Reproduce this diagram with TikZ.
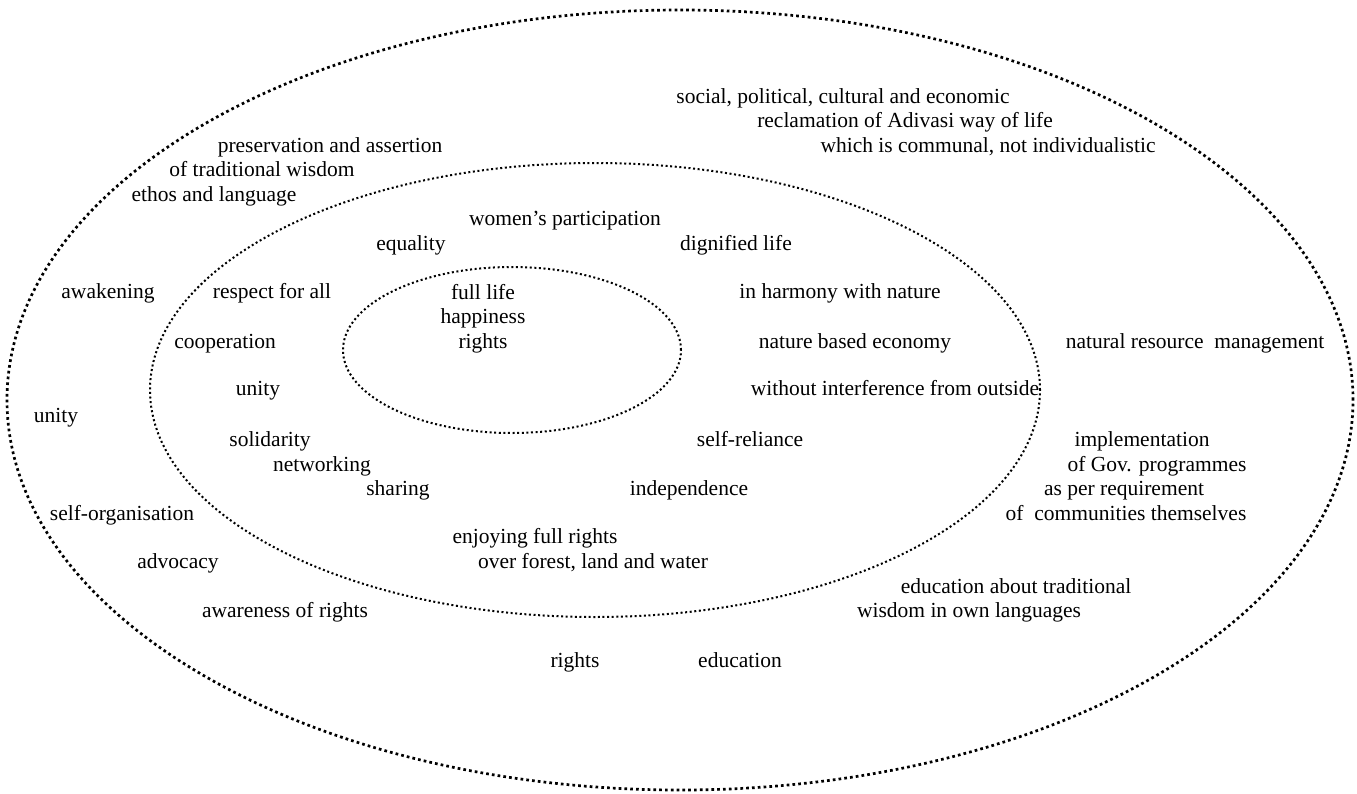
\documentclass[tikz,border=0pt]{standalone}
\usepackage{fontspec}
\setmainfont{Liberation Serif}

\tikzset{
	outer ring/.style={line width=2.7pt, line cap=butt, dash pattern=on 2.7pt off 3.1pt},
	ring/.style={line width=2pt, line cap=butt, dash pattern=on 2pt off 2.6pt},
	word/.style={inner sep=0pt, text height=14pt, text depth=4pt,
		font=\fontsize{21.5}{24.5}\selectfont}
}

\begin{document}
\begin{tikzpicture}[x=1pt,y=-1pt]
		\useasboundingbox (0,0) rectangle (1357,793);
		
		% rings
		\draw[outer ring] (680, 400) ellipse [x radius=673pt, y radius=390pt];
		\draw[ring] (595, 390) ellipse [x radius=445pt, y radius=227pt];
		\draw[ring] (512, 350) ellipse [x radius=169pt, y radius=83pt];
		
		% core
		\node[word, align=center] (core) at (483, 343) {full life\\happiness\\rights};
		
		% middle ring
		\node[word] (women) at (565, 220) {women’s participation};
		\node[word] (equality) at (411, 245) {equality};
		\node[word] (dignified) at (736, 245) {dignified life};
		\node[word] (respect) at (272, 293) {respect for all};
		\node[word] (harmony) at (840, 293) {in harmony with nature};
		\node[word] (cooperation) at (225, 343) {cooperation};
		\node[word] (economy) at (855, 343) {nature based economy};
		\node[word] (unityin) at (258, 390) {unity};
		\node[word] (outside) at (895, 390) {without interference from outside};
		\node[word] (solidarity) at (270, 441) {solidarity};
		\node[word] (selfreliance) at (750, 441) {self-reliance};
		\node[word] (networking) at (322, 466) {networking};
		\node[word] (sharing) at (398, 490) {sharing};
		\node[word] (independence) at (689, 490) {independence};
		\node[word] (enjoying) at (535, 538) {enjoying full rights};
		\node[word] (forest) at (593, 563) {over forest, land and water};
		
		% outer ring
		\node[word] (social) at (843, 98) {social, political, cultural and economic};
		\node[word] (reclamation) at (905, 122) {reclamation of Adivasi way of life};
		\node[word] (communal) at (988, 147) {which is communal, not individualistic};
		\node[word] (preservation) at (330, 147) {preservation and assertion};
		\node[word] (wisdom) at (262, 171) {of traditional wisdom};
		\node[word] (ethos) at (214, 196) {ethos and language};
		\node[word] (awakening) at (108, 293) {awakening};
		\node[word] (resource) at (1195, 343) {natural resource\ \ management};
		\node[word] (unityout) at (56, 417) {unity};
		\node[word] (implementation) at (1142, 441) {implementation};
		\node[word] (programmes) at (1157, 466) {of Gov. programmes};
		\node[word] (requirement) at (1124, 490) {as per requirement};
		\node[word] (communities) at (1126, 515) {of\ \ communities themselves};
		\node[word] (selforg) at (122, 515) {self-organisation};
		\node[word] (advocacy) at (178, 563) {advocacy};
		\node[word] (teaching) at (1016, 588) {education about traditional};
		\node[word] (languages) at (969, 612) {wisdom in own languages};
		\node[word] (awareness) at (285, 612) {awareness of rights};
		\node[word] (rights) at (575, 662) {rights};
		\node[word] (education) at (740, 662) {education};
		
	\end{tikzpicture}
\end{document}
